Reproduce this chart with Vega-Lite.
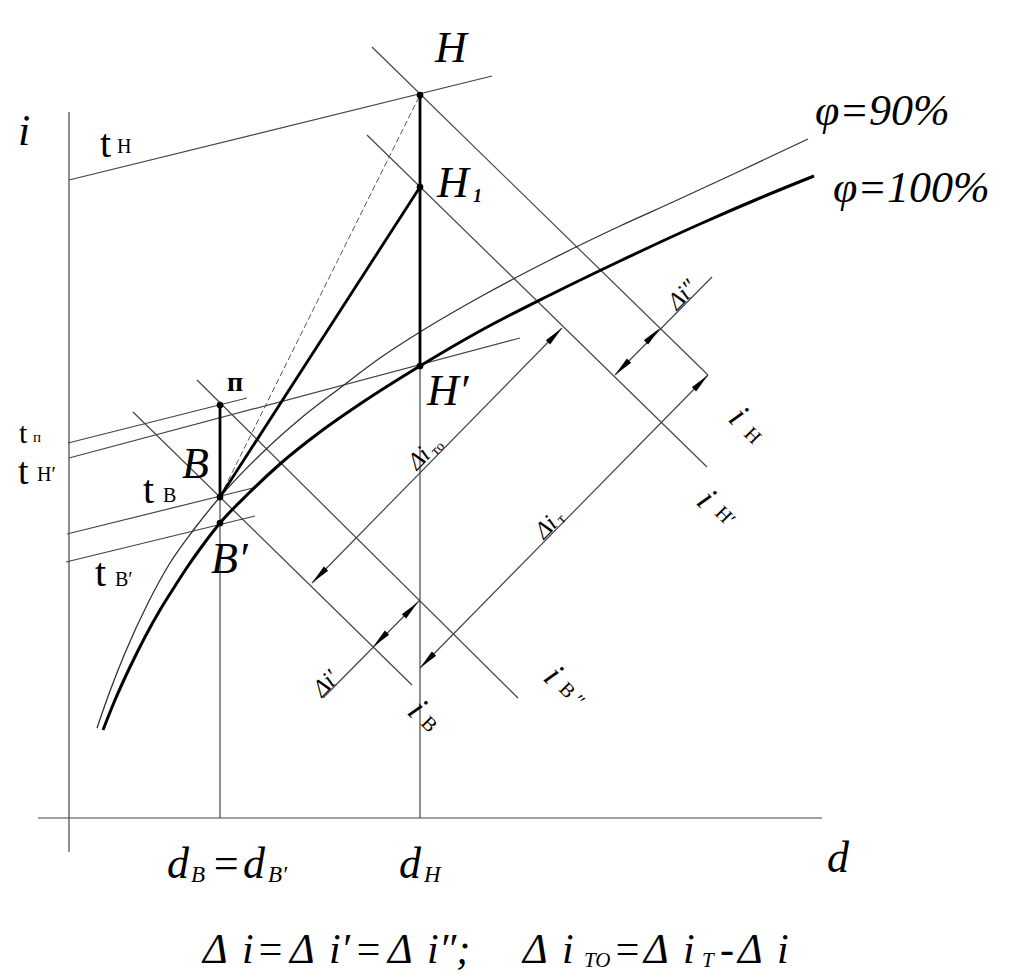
{
  "$schema": "https://vega.github.io/schema/vega-lite/v6.json",
  "width": 1024,
  "height": 980,
  "autosize": {"type": "fit", "contains": "padding"},
  "padding": 0,
  "background": "white",
  "config": {"view": {"stroke": null}},
  "encoding": {
    "x": {"field": "x", "type": "quantitative", "scale": {"domain": [0, 1024], "nice": false, "zero": false}, "axis": null},
    "y": {"field": "y", "type": "quantitative", "scale": {"domain": [0, 980], "reverse": true, "nice": false, "zero": false}, "axis": null}
  },
  "layer": [
    {
      "data": {"values": [
        {"id": "axis_i", "k": 0, "x": 69, "y": 112}, {"id": "axis_i", "k": 1, "x": 69, "y": 852},
        {"id": "axis_d", "k": 0, "x": 38, "y": 818}, {"id": "axis_d", "k": 1, "x": 822, "y": 818},
        {"id": "dB", "k": 0, "x": 220, "y": 497}, {"id": "dB", "k": 1, "x": 220, "y": 818},
        {"id": "dH", "k": 0, "x": 420, "y": 366}, {"id": "dH", "k": 1, "x": 420, "y": 818},
        {"id": "tH", "k": 0, "x": 69, "y": 180}, {"id": "tH", "k": 1, "x": 492, "y": 76},
        {"id": "tP", "k": 0, "x": 68, "y": 443}, {"id": "tP", "k": 1, "x": 247, "y": 398},
        {"id": "tH2", "k": 0, "x": 69, "y": 458}, {"id": "tH2", "k": 1, "x": 520, "y": 338},
        {"id": "tB", "k": 0, "x": 67, "y": 534}, {"id": "tB", "k": 1, "x": 253, "y": 488},
        {"id": "tB2", "k": 0, "x": 66, "y": 562}, {"id": "tB2", "k": 1, "x": 255, "y": 516},
        {"id": "iH", "k": 0, "x": 372, "y": 47}, {"id": "iH", "k": 1, "x": 708, "y": 375},
        {"id": "iH2", "k": 0, "x": 367, "y": 135}, {"id": "iH2", "k": 1, "x": 707, "y": 467},
        {"id": "iB2", "k": 0, "x": 197, "y": 380}, {"id": "iB2", "k": 1, "x": 518, "y": 698},
        {"id": "iB", "k": 0, "x": 133, "y": 412}, {"id": "iB", "k": 1, "x": 412, "y": 685},
        {"id": "dimTO", "k": 0, "x": 312, "y": 583}, {"id": "dimTO", "k": 1, "x": 562, "y": 328},
        {"id": "dimT", "k": 0, "x": 420, "y": 668}, {"id": "dimT", "k": 1, "x": 708, "y": 375},
        {"id": "dim1", "k": 0, "x": 323, "y": 698}, {"id": "dim1", "k": 1, "x": 420, "y": 600},
        {"id": "dim2", "k": 0, "x": 615, "y": 375}, {"id": "dim2", "k": 1, "x": 712, "y": 277}
      ]},
      "mark": {"type": "line", "stroke": "#444444", "strokeWidth": 1.2},
      "encoding": {"detail": {"field": "id"}, "order": {"field": "k"}}
    },
    {
      "data": {"values": [
        {"k": 0, "x": 220, "y": 497}, {"k": 1, "x": 420, "y": 95}
      ]},
      "mark": {"type": "line", "stroke": "#555555", "strokeWidth": 1, "strokeDash": [6, 3]},
      "encoding": {"order": {"field": "k"}}
    },
    {
      "data": {"values": [
        {"x": 97, "y": 728}, {"x": 110, "y": 691}, {"x": 125, "y": 653}, {"x": 148, "y": 603},
        {"x": 170, "y": 563}, {"x": 195, "y": 528}, {"x": 220, "y": 497}, {"x": 260, "y": 455},
        {"x": 300, "y": 419}, {"x": 340, "y": 388}, {"x": 380, "y": 358}, {"x": 420, "y": 332},
        {"x": 480, "y": 297}, {"x": 550, "y": 260}, {"x": 620, "y": 226}, {"x": 673, "y": 202},
        {"x": 740, "y": 171}, {"x": 808, "y": 139}
      ]},
      "mark": {"type": "line", "stroke": "#333333", "strokeWidth": 1.3, "interpolate": "monotone"}
    },
    {
      "data": {"values": [
        {"x": 103, "y": 730}, {"x": 115, "y": 700}, {"x": 130, "y": 667}, {"x": 145, "y": 637},
        {"x": 160, "y": 610}, {"x": 175, "y": 586}, {"x": 188, "y": 566}, {"x": 200, "y": 549},
        {"x": 220, "y": 523}, {"x": 250, "y": 492}, {"x": 280, "y": 464}, {"x": 320, "y": 432},
        {"x": 360, "y": 404}, {"x": 420, "y": 366}, {"x": 480, "y": 331}, {"x": 550, "y": 295},
        {"x": 620, "y": 261}, {"x": 700, "y": 224}, {"x": 760, "y": 198}, {"x": 814, "y": 176}
      ]},
      "mark": {"type": "line", "stroke": "black", "strokeWidth": 3, "interpolate": "monotone"}
    },
    {
      "data": {"values": [
        {"id": "PB", "k": 0, "x": 220, "y": 405}, {"id": "PB", "k": 1, "x": 220, "y": 497},
        {"id": "HH", "k": 0, "x": 420, "y": 95}, {"id": "HH", "k": 1, "x": 420, "y": 366},
        {"id": "BH1", "k": 0, "x": 220, "y": 497}, {"id": "BH1", "k": 1, "x": 420, "y": 187}
      ]},
      "mark": {"type": "line", "stroke": "black", "strokeWidth": 2.8},
      "encoding": {"detail": {"field": "id"}, "order": {"field": "k"}}
    },
    {
      "data": {"values": [
        {"p": "H", "x": 420, "y": 95}, {"p": "H1", "x": 420, "y": 187}, {"p": "H'", "x": 420, "y": 366},
        {"p": "P", "x": 220, "y": 405}, {"p": "B", "x": 220, "y": 497}, {"p": "B'", "x": 220, "y": 523}
      ]},
      "mark": {"type": "point", "filled": true, "color": "black", "opacity": 1, "size": 45}
    },
    {
      "data": {"values": [
        {"x": 562, "y": 328}, {"x": 418, "y": 602}, {"x": 708, "y": 375}, {"x": 660, "y": 328}
      ]},
      "mark": {"type": "point", "shape": "M0,0L0.3,2L-0.3,2Z", "filled": true, "color": "black", "opacity": 1, "size": 400, "angle": 44.4, "strokeWidth": 0}
    },
    {
      "data": {"values": [
        {"x": 312, "y": 583}, {"x": 373, "y": 647}, {"x": 420, "y": 668}, {"x": 615, "y": 375}
      ]},
      "mark": {"type": "point", "shape": "M0,0L0.3,2L-0.3,2Z", "filled": true, "color": "black", "opacity": 1, "size": 400, "angle": 224.4, "strokeWidth": 0}
    },
    {
      "data": {"values": [
        {"t": "Н", "x": 435, "y": 62}, {"t": "Н", "x": 437, "y": 197}, {"t": "Н′", "x": 427, "y": 405},
        {"t": "В", "x": 182, "y": 478}, {"t": "В′", "x": 211, "y": 573},
        {"t": "i", "x": 18, "y": 145}, {"t": "d", "x": 827, "y": 872},
        {"t": "φ=90%", "x": 815, "y": 125}, {"t": "φ=100%", "x": 833, "y": 202},
        {"t": "d", "x": 167, "y": 878}, {"t": "=", "x": 211, "y": 878}, {"t": "d", "x": 243, "y": 878},
        {"t": "d", "x": 399, "y": 878}
      ]},
      "mark": {"type": "text", "font": "Liberation Serif", "fontStyle": "italic", "fontSize": 44, "align": "left", "baseline": "alphabetic", "color": "black"},
      "encoding": {"text": {"field": "t"}}
    },
    {
      "data": {"values": [
        {"t": "В", "x": 191, "y": 882}, {"t": "В′", "x": 268, "y": 882}, {"t": "Н", "x": 424, "y": 882}
      ]},
      "mark": {"type": "text", "font": "Liberation Serif", "fontStyle": "italic", "fontSize": 23, "align": "left", "baseline": "alphabetic", "color": "black"},
      "encoding": {"text": {"field": "t"}}
    },
    {
      "data": {"values": [{"t": "1", "x": 473, "y": 202}]},
      "mark": {"type": "text", "font": "Liberation Serif", "fontStyle": "italic", "fontWeight": "bold", "fontSize": 18, "align": "left", "baseline": "alphabetic", "color": "black"},
      "encoding": {"text": {"field": "t"}}
    },
    {
      "data": {"values": [{"t": "п", "x": 227, "y": 391}]},
      "mark": {"type": "text", "font": "Liberation Serif", "fontWeight": "bold", "fontSize": 28, "align": "left", "baseline": "alphabetic", "color": "black"},
      "encoding": {"text": {"field": "t"}}
    },
    {
      "data": {"values": [
        {"t": "t", "x": 100, "y": 157},
        {"t": "t", "x": 143, "y": 503}, {"t": "t", "x": 95, "y": 586}
      ]},
      "mark": {"type": "text", "font": "Liberation Serif", "fontSize": 40, "align": "left", "baseline": "alphabetic", "color": "black"},
      "encoding": {"text": {"field": "t"}}
    },
    {
      "data": {"values": [{"t": "t", "x": 18, "y": 484}]},
      "mark": {"type": "text", "font": "Liberation Serif", "fontSize": 38, "align": "left", "baseline": "alphabetic", "color": "black"},
      "encoding": {"text": {"field": "t"}}
    },
    {
      "data": {"values": [{"t": "t", "x": 19, "y": 443}]},
      "mark": {"type": "text", "font": "Liberation Serif", "fontSize": 30, "align": "left", "baseline": "alphabetic", "color": "black"},
      "encoding": {"text": {"field": "t"}}
    },
    {
      "data": {"values": [
        {"t": "Н", "x": 117, "y": 153}, {"t": "Н′", "x": 37, "y": 481},
        {"t": "В", "x": 163, "y": 502}, {"t": "В′", "x": 115, "y": 586}
      ]},
      "mark": {"type": "text", "font": "Liberation Serif", "fontSize": 20, "align": "left", "baseline": "alphabetic", "color": "black"},
      "encoding": {"text": {"field": "t"}}
    },
    {
      "data": {"values": [{"t": "п", "x": 33, "y": 442}]},
      "mark": {"type": "text", "font": "Liberation Serif", "fontSize": 15, "align": "left", "baseline": "alphabetic", "color": "black"},
      "encoding": {"text": {"field": "t"}}
    },
    {
      "data": {"values": [
        {"t": "Δ", "x": 203, "y": 963}, {"t": "i", "x": 242, "y": 963}, {"t": "=", "x": 256, "y": 963}, {"t": "Δ", "x": 290, "y": 963},
        {"t": "i′", "x": 329, "y": 963}, {"t": "=", "x": 354, "y": 963}, {"t": "Δ", "x": 388, "y": 963}, {"t": "i″;", "x": 427, "y": 963},
        {"t": "Δ", "x": 523, "y": 963}, {"t": "i", "x": 562, "y": 963}, {"t": "=", "x": 613, "y": 963}, {"t": "Δ", "x": 644, "y": 963},
        {"t": "i", "x": 683, "y": 963}, {"t": "-", "x": 720, "y": 963}, {"t": "Δ", "x": 738, "y": 963}, {"t": "i", "x": 777, "y": 963}
      ]},
      "mark": {"type": "text", "font": "Liberation Serif", "fontStyle": "italic", "fontSize": 42, "align": "left", "baseline": "alphabetic", "color": "black"},
      "encoding": {"text": {"field": "t"}}
    },
    {
      "data": {"values": [{"t": "TO", "x": 584, "y": 967}, {"t": "T", "x": 702, "y": 967}]},
      "mark": {"type": "text", "font": "Liberation Serif", "fontStyle": "italic", "fontSize": 21, "align": "left", "baseline": "alphabetic", "color": "black"},
      "encoding": {"text": {"field": "t"}}
    },
    {
      "data": {"values": [
        {"t": "Δi", "x": 417, "y": 471}, {"t": "Δi", "x": 544, "y": 540},
        {"t": "Δi″", "x": 677, "y": 311}, {"t": "Δi′", "x": 322, "y": 698}
      ]},
      "mark": {"type": "text", "font": "Liberation Serif", "fontStyle": "italic", "fontSize": 24, "align": "left", "baseline": "alphabetic", "angle": -45.6, "color": "black"},
      "encoding": {"text": {"field": "t"}}
    },
    {
      "data": {"values": [{"t": "то", "x": 436, "y": 456}, {"t": "т", "x": 562, "y": 524}]},
      "mark": {"type": "text", "font": "Liberation Serif", "fontSize": 14, "align": "left", "baseline": "alphabetic", "angle": -45.6, "color": "black"},
      "encoding": {"text": {"field": "t"}}
    },
    {
      "data": {"values": [
        {"t": "i", "x": 727, "y": 420}, {"t": "i", "x": 695, "y": 503}, {"t": "i", "x": 542, "y": 679}, {"t": "i", "x": 406, "y": 713}
      ]},
      "mark": {"type": "text", "font": "Liberation Serif", "fontStyle": "italic", "fontSize": 35, "align": "left", "baseline": "alphabetic", "angle": 45, "color": "black"},
      "encoding": {"text": {"field": "t"}}
    },
    {
      "data": {"values": [
        {"t": "Н", "x": 743, "y": 435}, {"t": "Н′", "x": 714, "y": 514}, {"t": "В ″", "x": 558, "y": 690}, {"t": "В", "x": 420, "y": 724}
      ]},
      "mark": {"type": "text", "font": "Liberation Serif", "fontSize": 20, "align": "left", "baseline": "alphabetic", "angle": 45, "color": "black"},
      "encoding": {"text": {"field": "t"}}
    }
  ]
}
